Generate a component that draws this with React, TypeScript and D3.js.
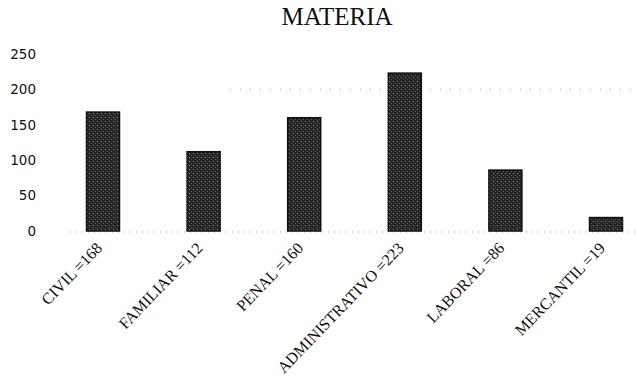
import React from "react";
import * as d3 from "d3";

const categories = ["CIVIL", "FAMILIAR", "PENAL", "ADMINISTRATIVO", "LABORAL", "MERCANTIL"];
const values = [168, 112, 160, 223, 86, 19];
const yTicks = [0, 50, 100, 150, 200, 250];
const title = "MATERIA";

const W = 637;
const H = 379;

export default function App() {
  const x = d3
    .scaleBand<string>()
    .domain(categories)
    .range([52.7, 656.3])
    .paddingInner(0.672)
    .paddingOuter(0.336);
  const y = d3.scaleLinear().domain([0, 250]).range([231, 54]);

  return (
    <svg
      width={W}
      height={H}
      style={{ position: "absolute", left: 0, top: 0, background: "#fff" }}
    >
      <defs>
        <pattern id="stip" width="4" height="4" patternUnits="userSpaceOnUse">
          <rect width="4" height="4" fill="#262626" />
          <rect x="1" y="1" width="1" height="1" fill="#8a8a8a" />
          <rect x="3" y="3" width="1" height="1" fill="#555" />
        </pattern>
      </defs>
      <text
        x={337}
        y={25}
        textAnchor="middle"
        fontFamily="Liberation Serif, serif"
        fontSize={25}
        fill="#111"
      >
        {title}
      </text>
      {/* faint dotted grid */}
      <line
        x1={230}
        x2={W}
        y1={y(200)}
        y2={y(200)}
        stroke="#aaa"
        strokeWidth={1}
        strokeDasharray="1 9"
      />
      <line
        x1={70}
        x2={W}
        y1={y(0) + 1}
        y2={y(0) + 1}
        stroke="#999"
        strokeWidth={1}
        strokeDasharray="1 5"
      />
      {yTicks.map((t) => (
        <text
          key={t}
          x={36}
          y={y(t)}
          dy="0.36em"
          textAnchor="end"
          fontFamily="DejaVu Sans, sans-serif"
          fontSize={13.5}
          fill="#111"
        >
          {t}
        </text>
      ))}
      {categories.map((c, i) => (
        <rect
          key={c}
          x={x(c)}
          y={y(values[i])}
          width={x.bandwidth()}
          height={y(0) - y(values[i])}
          fill="url(#stip)"
          stroke="#111"
          strokeWidth={1.5}
        />
      ))}
      {categories.map((c, i) => {
        const cx = (x(c) as number) + x.bandwidth() / 2;
        const cy = 249;
        return (
          <text
            key={c + "l"}
            x={cx}
            y={cy}
            textAnchor="end"
            transform={`rotate(-46 ${cx} ${cy})`}
            fontFamily="Liberation Serif, serif"
            fontSize={16}
            fill="#111"
          >
            {`${c} =${values[i]}`}
          </text>
        );
      })}
    </svg>
  );
}
